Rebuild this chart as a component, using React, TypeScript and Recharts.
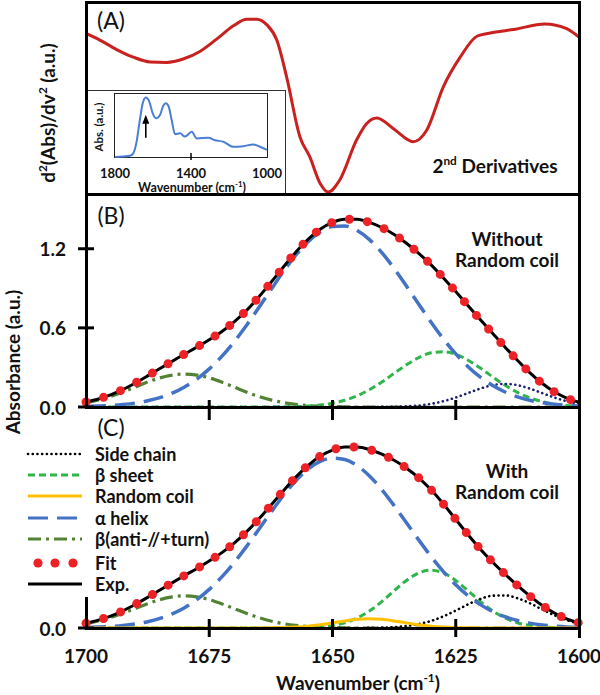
import { LineChart, Line, XAxis, YAxis, ReferenceLine, ReferenceDot } from 'recharts';

const FONT = 'Lato, "Open Sans", sans-serif';
const W = 600;
const H = 695;

// (A) second derivative of the amide I band
const derivWavenumber = [1700, 1697.2, 1693.8, 1690.4, 1687.0, 1683.6, 1680.3, 1676.9, 1673.5, 1670.1, 1667.4, 1665.4, 1663.3, 1661.3, 1659.3, 1656.6, 1654.6, 1652.5, 1650.9, 1648.5, 1645.1, 1643.1, 1641.0, 1637.7, 1633.6, 1630.9, 1627.5, 1624.1, 1620.7, 1617.4, 1613.3, 1606.9, 1602.5, 1600];
const derivValue = [0.68, 0.61, 0.51, 0.43, 0.38, 0.375, 0.41, 0.49, 0.62, 0.76, 0.83, 0.83, 0.77, 0.61, 0.22, -0.41, -0.62, -0.9, -0.99, -0.86, -0.44, -0.27, -0.21, -0.32, -0.46, -0.34, 0.12, 0.43, 0.65, 0.69, 0.72, 0.78, 0.73, 0.64];

// inset: full spectrum
const insetWavenumber = [1800, 1721, 1704, 1686, 1668, 1654, 1638, 1619, 1602, 1584, 1563, 1546, 1533, 1519, 1502, 1484, 1458, 1432, 1396, 1370, 1309, 1274, 1230, 1177, 1125, 1072, 1037, 1000];
const insetAbs = [0.0, 0.02, 0.06, 0.26, 0.645, 0.895, 0.99, 0.92, 0.73, 0.645, 0.7, 0.855, 0.895, 0.855, 0.62, 0.38, 0.395, 0.34, 0.42, 0.31, 0.32, 0.28, 0.255, 0.17, 0.18, 0.21, 0.17, 0.12];
const insetTicks = [1800, 1400, 1000];

// (B) and (C) share this grid
const wavenumber = [1700, 1697.5, 1695, 1692.5, 1690, 1687.5, 1685, 1682.5, 1680, 1677.5, 1675, 1672.5, 1670, 1667.5, 1665, 1662.5, 1660, 1657.5, 1655, 1652.5, 1650, 1647.5, 1645, 1642.5, 1640, 1637.5, 1635, 1632.5, 1630, 1627.5, 1625, 1622.5, 1620, 1617.5, 1615, 1612.5, 1610, 1607.5, 1605, 1602.5, 1600];
const xTicks = [1700, 1675, 1650, 1625, 1600];

// (B) without random coil
const bSideChain = [0, 0, 0, 0, 0, 0, 0, 0, 0, 0, 0, 0, 0, 0, 0, 0, 0, 0, 0, 0, 0, 0, 0, 0, 0.001, 0.002, 0.005, 0.011, 0.024, 0.044, 0.072, 0.106, 0.14, 0.166, 0.175, 0.166, 0.14, 0.106, 0.072, 0.044, 0.024];
const bSheet = [0, 0, 0, 0, 0, 0, 0, 0, 0, 0, 0, 0, 0, 0, 0, 0.001, 0.001, 0.003, 0.007, 0.015, 0.029, 0.051, 0.085, 0.131, 0.189, 0.255, 0.32, 0.375, 0.411, 0.419, 0.4, 0.355, 0.295, 0.228, 0.165, 0.111, 0.07, 0.041, 0.022, 0.011, 0.005];
const bHelix = [0.004, 0.007, 0.011, 0.019, 0.03, 0.047, 0.071, 0.105, 0.152, 0.212, 0.289, 0.382, 0.492, 0.616, 0.751, 0.889, 1.025, 1.149, 1.252, 1.327, 1.368, 1.372, 1.338, 1.269, 1.171, 1.051, 0.917, 0.779, 0.643, 0.516, 0.403, 0.306, 0.226, 0.163, 0.114, 0.077, 0.051, 0.033, 0.021, 0.012, 0.007];
const bTurn = [0.034, 0.054, 0.081, 0.114, 0.152, 0.189, 0.221, 0.242, 0.25, 0.242, 0.221, 0.189, 0.152, 0.114, 0.081, 0.054, 0.034, 0.02, 0.011, 0.006, 0.003, 0.001, 0, 0, 0, 0, 0, 0, 0, 0, 0, 0, 0, 0, 0, 0, 0, 0, 0, 0, 0];
// experimental curve, the fit lies right on it
const bExp = [0.038, 0.061, 0.092, 0.133, 0.182, 0.236, 0.292, 0.347, 0.402, 0.454, 0.51, 0.571, 0.644, 0.73, 0.832, 0.944, 1.06, 1.172, 1.27, 1.348, 1.4, 1.424, 1.423, 1.4, 1.361, 1.308, 1.242, 1.165, 1.078, 0.979, 0.875, 0.767, 0.661, 0.557, 0.454, 0.354, 0.261, 0.18, 0.115, 0.067, 0.036];

// (C) with random coil
const cSideChain = [0, 0, 0, 0, 0, 0, 0, 0, 0, 0, 0, 0, 0, 0, 0, 0, 0, 0, 0, 0, 0, 0, 0, 0.001, 0.003, 0.007, 0.015, 0.03, 0.054, 0.089, 0.133, 0.18, 0.221, 0.246, 0.248, 0.227, 0.189, 0.142, 0.097, 0.06, 0.034];
const cSheet = [0, 0, 0, 0, 0, 0, 0, 0, 0, 0, 0, 0, 0, 0, 0, 0, 0, 0.001, 0.003, 0.008, 0.019, 0.04, 0.076, 0.13, 0.201, 0.284, 0.362, 0.419, 0.44, 0.419, 0.362, 0.284, 0.201, 0.13, 0.076, 0.04, 0.019, 0.008, 0.003, 0.001, 0];
const cCoil = [0, 0, 0, 0, 0, 0, 0, 0, 0, 0, 0, 0, 0, 0, 0, 0.001, 0.003, 0.007, 0.014, 0.025, 0.039, 0.054, 0.066, 0.07, 0.066, 0.054, 0.039, 0.025, 0.014, 0.007, 0.003, 0.001, 0, 0, 0, 0, 0, 0, 0, 0, 0];
const cHelix = [0.004, 0.007, 0.011, 0.019, 0.031, 0.048, 0.073, 0.108, 0.155, 0.216, 0.294, 0.387, 0.496, 0.618, 0.748, 0.88, 1.007, 1.119, 1.209, 1.269, 1.294, 1.283, 1.236, 1.158, 1.054, 0.932, 0.801, 0.67, 0.544, 0.429, 0.329, 0.245, 0.178, 0.125, 0.086, 0.057, 0.037, 0.023, 0.014, 0.008, 0.005];
const cTurn = [0.033, 0.053, 0.08, 0.112, 0.149, 0.185, 0.216, 0.237, 0.245, 0.237, 0.216, 0.185, 0.149, 0.112, 0.08, 0.053, 0.033, 0.02, 0.011, 0.006, 0.003, 0.001, 0, 0, 0, 0, 0, 0, 0, 0, 0, 0, 0, 0, 0, 0, 0, 0, 0, 0, 0];
const cExp = [0.037, 0.06, 0.091, 0.131, 0.18, 0.233, 0.289, 0.345, 0.4, 0.453, 0.51, 0.572, 0.645, 0.73, 0.828, 0.934, 1.043, 1.147, 1.237, 1.308, 1.355, 1.378, 1.378, 1.359, 1.324, 1.277, 1.217, 1.144, 1.052, 0.944, 0.827, 0.71, 0.6, 0.501, 0.41, 0.324, 0.245, 0.173, 0.114, 0.069, 0.039];

const derivData = derivWavenumber.map((wn, i) => ({ wn, value: derivValue[i] }));
const insetData = insetWavenumber.map((wn, i) => ({ wn, abs: insetAbs[i] }));
const panelB = wavenumber.map((wn, i) => ({
  wn, side: bSideChain[i], sheet: bSheet[i], helix: bHelix[i], turn: bTurn[i], exp: bExp[i],
}));
const panelC = wavenumber.map((wn, i) => ({
  wn, side: cSideChain[i], sheet: cSheet[i], coil: cCoil[i], helix: cHelix[i], turn: cTurn[i], exp: cExp[i],
}));

const styles: Record<string, any> = {
  side: { stroke: '#000', strokeWidth: 2.6, strokeDasharray: '0.1 4.6', strokeLinecap: 'round' },
  sheet: { stroke: '#2fb54a', strokeWidth: 3, strokeDasharray: '7 4' },
  coil: { stroke: '#ffc000', strokeWidth: 3 },
  helix: { stroke: '#4472c4', strokeWidth: 3.5, strokeDasharray: '20 9' },
  turn: { stroke: '#548235', strokeWidth: 3.2, strokeDasharray: '13 5 3 5' },
  fit: { stroke: '#ec2227', strokeWidth: 9, strokeDasharray: '0 18.2', strokeLinecap: 'round' },
  exp: { stroke: '#000', strokeWidth: 3 },
};

const legendRows = [
  { name: 'Side chain', key: 'side', y: 454 },
  { name: 'β sheet', key: 'sheet', y: 475 },
  { name: 'Random coil', key: 'coil', y: 496 },
  { name: 'α helix', key: 'helix', y: 518 },
  { name: 'β(anti-//+turn)', key: 'turn', y: 539 },
  { name: 'Fit', key: 'fit', y: 563 },
  { name: 'Exp.', key: 'exp', y: 584 },
];

const XTick = (props: any) => {
  const { x, y, payload, marks, up, down, showLabel } = props;
  const v = payload.value;
  return (
    <g>
      {marks.includes(v) && <line x1={x} x2={x} y1={y - up} y2={y + down} stroke="#000" strokeWidth={3} />}
      {showLabel && (
        <text x={x} y={y + 27} textAnchor="middle" dominantBaseline="central" fontFamily={FONT} fontWeight="bold" fontSize={19} fill="#111">
          {v}
        </text>
      )}
    </g>
  );
};

const YTick = (props: any) => {
  const { x, y, payload } = props;
  return (
    <g>
      <line x1={x - 8} x2={x + 8} y1={y} y2={y} stroke="#000" strokeWidth={3} />
      <text x={x - 20} y={y} textAnchor="end" dominantBaseline="central" fontFamily={FONT} fontWeight="bold" fontSize={19} fill="#111">
        {payload.value.toFixed(1)}
      </text>
    </g>
  );
};

const InsetTick = (props: any) => {
  const { x, y, payload } = props;
  const v = payload.value;
  return (
    <g>
      {v === 1400 && <line x1={x} x2={x} y1={y - 4} y2={y + 3} stroke="#000" strokeWidth={1.5} />}
      <text x={x} y={y + 16} textAnchor="middle" dominantBaseline="central" fontFamily={FONT} fontWeight="bold" fontSize={13} fill="#111">
        {v}
      </text>
    </g>
  );
};

const Arrowhead = (props: any) => {
  const { cx, cy } = props;
  return <path d={`M${cx},${cy - 2} L${cx - 3.5},${cy + 7} L${cx + 3.5},${cy + 7} Z`} fill="#000" />;
};

const Swatch = ({ kind }: { kind: string }) => (
  <svg width={60} height={14} style={{ position: 'absolute', left: 26, top: -7 }}>
    {kind === 'fit' ? (
      [12, 29, 47].map((cx) => <circle key={cx} cx={cx} cy={7} r={4.6} fill="#ec2227" />)
    ) : (
      <line x1={2} x2={56} y1={7} y2={7} {...styles[kind]} strokeWidth={kind === 'side' ? 2.6 : 3} />
    )}
  </svg>
);

const Box = ({ l, t, w, h, bg = '#000' }: { l: number; t: number; w: number; h: number; bg?: string }) => (
  <div style={{ position: 'absolute', left: l, top: t, width: w, height: h, background: bg }} />
);

const Txt = ({ cx, cy, size, bold = true, rotate = false, children }: any) => (
  <div
    style={{
      position: 'absolute',
      left: cx,
      top: cy,
      transform: `translate(-50%, -50%)${rotate ? ' rotate(-90deg)' : ''}`,
      whiteSpace: 'nowrap',
      fontFamily: FONT,
      fontWeight: bold ? 700 : 400,
      fontSize: size,
      lineHeight: 1,
      color: '#111',
      textAlign: 'center',
    }}
  >
    {children}
  </div>
);

const sup = { fontSize: '0.62em', verticalAlign: 'super', lineHeight: 0 } as const;

const layer = { position: 'absolute', left: 0, top: 0 } as const;

export default function App() {
  return (
    <div style={{ position: 'absolute', left: 0, top: 0, width: W, height: H, background: '#fff', overflow: 'hidden' }}>
      {/* (A) second derivative */}
      <div style={layer}>
        <LineChart width={W} height={H} data={derivData} margin={{ top: 3, right: 21, bottom: 502, left: 86 }}>
          <XAxis dataKey="wn" type="number" domain={[1600, 1700]} reversed hide />
          <YAxis type="number" domain={[-1, 1]} hide />
          <Line type="monotone" dataKey="value" stroke="#c8211f" strokeWidth={3} dot={false} activeDot={false} isAnimationActive={false} />
        </LineChart>
      </div>

      {/* inset */}
      <div style={{ position: 'absolute', left: 86, top: 90, width: 200, height: 105, background: '#fff', border: '1.5px solid #333', boxSizing: 'border-box' }} />
      <div style={{ position: 'absolute', left: 114, top: 93, width: 154, height: 65, border: '1.5px solid #222', boxSizing: 'border-box' }} />
      <div style={layer}>
        <LineChart width={W} height={H} data={insetData} margin={{ top: 94, right: 333, bottom: 508, left: 115 }}>
          <XAxis dataKey="wn" type="number" domain={[1000, 1800]} reversed ticks={insetTicks} interval={0} height={30}
            axisLine={false} tickLine={false} tickSize={0} tickMargin={0} tick={(p: any) => <InsetTick {...p} />} />
          <YAxis type="number" domain={[0, 1.05]} hide />
          <Line type="monotone" dataKey="abs" stroke="#4a7dd4" strokeWidth={2} dot={false} activeDot={false} isAnimationActive={false} />
          <ReferenceLine segment={[{ x: 1638, y: 0.32 }, { x: 1638, y: 0.6 }]} stroke="#000" strokeWidth={1.6} />
          <ReferenceDot x={1638} y={0.67} shape={(p: any) => <Arrowhead {...p} />} />
        </LineChart>
      </div>

      {/* (B) without random coil */}
      <div style={layer}>
        <LineChart width={W} height={H} data={panelB} margin={{ top: 196, right: 21, bottom: 268, left: 26 }}>
          <XAxis dataKey="wn" type="number" domain={[1600, 1700]} reversed ticks={xTicks} interval={0} height={20}
            axisLine={false} tickLine={false} tickSize={0} tickMargin={0}
            tick={(p: any) => <XTick {...p} marks={[1675, 1650, 1625]} up={7} down={13} showLabel={false} />} />
          <YAxis type="number" domain={[0, 1.6]} ticks={[0, 0.6, 1.2]} interval={0} width={60}
            axisLine={false} tickLine={false} tickSize={0} tickMargin={0} tick={(p: any) => <YTick {...p} />} />
          <Line type="monotone" dataKey="turn" {...styles.turn} dot={false} activeDot={false} isAnimationActive={false} />
          <Line type="monotone" dataKey="sheet" {...styles.sheet} dot={false} activeDot={false} isAnimationActive={false} />
          <Line type="monotone" dataKey="side" {...styles.side} stroke="#1e1e72" dot={false} activeDot={false} isAnimationActive={false} />
          <Line type="monotone" dataKey="helix" {...styles.helix} dot={false} activeDot={false} isAnimationActive={false} />
          <Line type="monotone" dataKey="exp" {...styles.exp} dot={false} activeDot={false} isAnimationActive={false} />
          <Line type="monotone" dataKey="exp" {...styles.fit} dot={false} activeDot={false} isAnimationActive={false} />
        </LineChart>
      </div>

      {/* (C) with random coil */}
      <div style={layer}>
        <LineChart width={W} height={H} data={panelC} margin={{ top: 410, right: 21, bottom: 27, left: 26 }}>
          <XAxis dataKey="wn" type="number" domain={[1600, 1700]} reversed ticks={xTicks} interval={0} height={40}
            axisLine={false} tickLine={false} tickSize={0} tickMargin={0}
            tick={(p: any) => <XTick {...p} marks={[1675, 1650, 1625]} up={9} down={9} showLabel />} />
          <YAxis type="number" domain={[0, 1.66]} ticks={[0]} interval={0} width={60}
            axisLine={false} tickLine={false} tickSize={0} tickMargin={0} tick={(p: any) => <YTick {...p} />} />
          <Line type="monotone" dataKey="turn" {...styles.turn} dot={false} activeDot={false} isAnimationActive={false} />
          <Line type="monotone" dataKey="sheet" {...styles.sheet} dot={false} activeDot={false} isAnimationActive={false} />
          <Line type="monotone" dataKey="side" {...styles.side} dot={false} activeDot={false} isAnimationActive={false} />
          <Line type="monotone" dataKey="helix" {...styles.helix} dot={false} activeDot={false} isAnimationActive={false} />
          <Line type="monotone" dataKey="coil" {...styles.coil} dot={false} activeDot={false} isAnimationActive={false} />
          <Line type="monotone" dataKey="exp" {...styles.exp} dot={false} activeDot={false} isAnimationActive={false} />
          <Line type="monotone" dataKey="exp" {...styles.fit} dot={false} activeDot={false} isAnimationActive={false} />
        </LineChart>
      </div>

      {/* frame lines */}
      <Box l={85} t={1} w={496} h={3} />
      <Box l={85} t={193} w={496} h={3} />
      <Box l={85} t={406} w={496} h={3} />
      <Box l={85} t={627} w={496} h={3} />
      <Box l={85} t={1} w={3} h={408} />
      <Box l={85} t={597} w={3} h={33} />
      <Box l={578} t={1} w={3} h={637} />

      {/* legend */}
      {legendRows.map((r) => (
        <div key={r.key} style={{ position: 'absolute', left: 0, top: r.y }}>
          <Swatch kind={r.key} />
          <div style={{ position: 'absolute', left: 95, top: -9, whiteSpace: 'nowrap', fontFamily: FONT, fontWeight: 700, fontSize: 18, lineHeight: '18px', color: '#111' }}>
            {r.name}
          </div>
        </div>
      ))}

      {/* texts */}
      <Txt cx={111} cy={20} size={23} bold={false}>(A)</Txt>
      <Txt cx={111} cy={215} size={23} bold={false}>(B)</Txt>
      <Txt cx={111} cy={427} size={23} bold={false}>(C)</Txt>
      <Txt cx={495} cy={165} size={19}>2<span style={sup}>nd</span> Derivatives</Txt>
      <Txt cx={507} cy={238} size={19}>Without</Txt>
      <Txt cx={507} cy={259} size={19}>Random coil</Txt>
      <Txt cx={507} cy={470} size={19}>With</Txt>
      <Txt cx={507} cy={491} size={19}>Random coil</Txt>
      <Txt cx={47} cy={113} size={19} rotate>d<span style={sup}>2</span>(Abs)/dv<span style={sup}>2</span> (a.u.)</Txt>
      <Txt cx={12} cy={362} size={19} rotate>Absorbance (a.u.)</Txt>
      <Txt cx={358} cy={682} size={19}>Wavenumber (cm<span style={sup}>-1</span>)</Txt>
      <Txt cx={192} cy={188} size={12.5}>Wavenumber (cm<span style={sup}>-1</span>)</Txt>
      <Txt cx={99} cy={127} size={11.5} rotate>Abs. (a.u.)</Txt>
    </div>
  );
}
